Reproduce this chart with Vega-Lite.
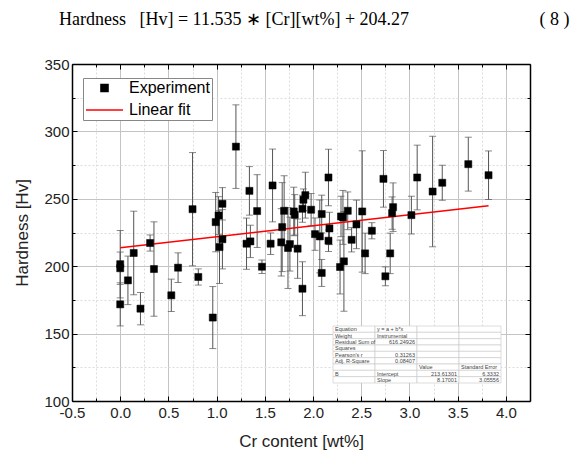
{
  "$schema": "https://vega.github.io/schema/vega-lite/v6.json",
  "width": 458,
  "height": 337,
  "autosize": {"type": "none"},
  "padding": {"left": 72, "top": 64, "right": 42, "bottom": 52},
  "background": "white",
  "title": {
    "text": "Hardness\u00a0\u00a0\u00a0[Hv] = 11.535 ∗ [Cr][wt%] + 204.27\u00a0\u00a0\u00a0\u00a0\u00a0\u00a0\u00a0\u00a0\u00a0\u00a0\u00a0\u00a0\u00a0\u00a0\u00a0\u00a0\u00a0\u00a0\u00a0\u00a0\u00a0\u00a0\u00a0\u00a0\u00a0\u00a0\u00a0\u00a0\u00a0(\u00a08\u00a0)",
    "font": "Liberation Serif",
    "fontSize": 18,
    "fontWeight": "normal",
    "color": "black",
    "anchor": "start",
    "frame": "group",
    "baseline": "alphabetic",
    "offset": 14,
    "dx": -13
  },
  "config": {
    "view": {"stroke": null},
    "axis": {
      "domainColor": "black",
      "domainWidth": 1.5,
      "tickColor": "black",
      "tickWidth": 1,
      "labelFont": "Liberation Sans",
      "labelFontSize": 15,
      "labelColor": "#222",
      "titleFont": "Liberation Sans",
      "titleFontSize": 17,
      "titleFontWeight": "normal",
      "titleColor": "#222",
      "labelFlush": false,
      "labelOverlap": false
    }
  },
  "datasets": {
    "points": [
      {"Cr": 0.0, "Hv": 201.5, "err": 25},
      {"Cr": 0.0, "Hv": 198.5, "err": 12},
      {"Cr": 0.0, "Hv": 171.7, "err": 16},
      {"Cr": 0.08, "Hv": 189.5, "err": 18},
      {"Cr": 0.14, "Hv": 209.8, "err": 31},
      {"Cr": 0.21, "Hv": 168.5, "err": 12},
      {"Cr": 0.31, "Hv": 217.2, "err": 6},
      {"Cr": 0.35, "Hv": 197.9, "err": 35},
      {"Cr": 0.53, "Hv": 178.4, "err": 12},
      {"Cr": 0.6, "Hv": 198.9, "err": 11},
      {"Cr": 0.75, "Hv": 242.3, "err": 42},
      {"Cr": 0.81, "Hv": 192.0, "err": 6},
      {"Cr": 0.96, "Hv": 161.9, "err": 23},
      {"Cr": 0.99, "Hv": 232.7, "err": 22},
      {"Cr": 1.02, "Hv": 237.6, "err": 14},
      {"Cr": 1.03, "Hv": 214.2, "err": 27},
      {"Cr": 1.06, "Hv": 246.3, "err": 12},
      {"Cr": 1.06, "Hv": 220.0, "err": 22},
      {"Cr": 1.2, "Hv": 288.7, "err": 31},
      {"Cr": 1.31, "Hv": 216.7, "err": 19},
      {"Cr": 1.34, "Hv": 255.9, "err": 18},
      {"Cr": 1.35, "Hv": 218.4, "err": 12},
      {"Cr": 1.42, "Hv": 240.9, "err": 27},
      {"Cr": 1.47, "Hv": 199.6, "err": 5},
      {"Cr": 1.56, "Hv": 216.7, "err": 8},
      {"Cr": 1.58, "Hv": 259.9, "err": 27},
      {"Cr": 1.67, "Hv": 217.7, "err": 25},
      {"Cr": 1.68, "Hv": 229.0, "err": 33},
      {"Cr": 1.7, "Hv": 241.1, "err": 26},
      {"Cr": 1.74, "Hv": 213.5, "err": 30},
      {"Cr": 1.76, "Hv": 216.4, "err": 20},
      {"Cr": 1.8, "Hv": 240.6, "err": 18},
      {"Cr": 1.81, "Hv": 238.1, "err": 15},
      {"Cr": 1.84, "Hv": 213.0, "err": 22},
      {"Cr": 1.89, "Hv": 183.3, "err": 20},
      {"Cr": 1.89, "Hv": 242.6, "err": 10},
      {"Cr": 1.9, "Hv": 249.3, "err": 8},
      {"Cr": 1.92, "Hv": 252.7, "err": 17},
      {"Cr": 1.98, "Hv": 241.9, "err": 12},
      {"Cr": 2.02, "Hv": 223.8, "err": 12},
      {"Cr": 2.07, "Hv": 222.1, "err": 27},
      {"Cr": 2.09, "Hv": 238.7, "err": 14},
      {"Cr": 2.09, "Hv": 195.0, "err": 10},
      {"Cr": 2.16, "Hv": 265.8, "err": 21},
      {"Cr": 2.16, "Hv": 218.9, "err": 8},
      {"Cr": 2.17, "Hv": 228.0, "err": 12},
      {"Cr": 2.28, "Hv": 199.4, "err": 20},
      {"Cr": 2.29, "Hv": 236.9, "err": 15},
      {"Cr": 2.31, "Hv": 236.2, "err": 20},
      {"Cr": 2.32, "Hv": 203.6, "err": 37},
      {"Cr": 2.36, "Hv": 241.1, "err": 14},
      {"Cr": 2.4, "Hv": 219.6, "err": 9},
      {"Cr": 2.45, "Hv": 231.0, "err": 18},
      {"Cr": 2.51, "Hv": 240.6, "err": 45},
      {"Cr": 2.54, "Hv": 209.5, "err": 15},
      {"Cr": 2.61, "Hv": 226.3, "err": 6},
      {"Cr": 2.73, "Hv": 264.8, "err": 21},
      {"Cr": 2.75, "Hv": 192.5, "err": 7},
      {"Cr": 2.8, "Hv": 209.5, "err": 15},
      {"Cr": 2.82, "Hv": 239.4, "err": 12},
      {"Cr": 2.83, "Hv": 243.8, "err": 18},
      {"Cr": 3.02, "Hv": 237.9, "err": 14},
      {"Cr": 3.08, "Hv": 265.8, "err": 24},
      {"Cr": 3.24, "Hv": 255.4, "err": 41},
      {"Cr": 3.34, "Hv": 261.9, "err": 13},
      {"Cr": 3.61, "Hv": 275.7, "err": 20},
      {"Cr": 3.82, "Hv": 267.5, "err": 18}
    ],
    "fit": [
      {"Cr": 0.0, "Hv": 213.61},
      {"Cr": 3.82, "Hv": 244.82}
    ],
    "table": [
      {"line": 0, "col": 1, "text": "Equation", "kind": "label"},
      {"line": 0, "col": 2, "text": "y = a + b*x", "kind": "label"},
      {"line": 0, "col": 3, "text": "", "kind": ""},
      {"line": 0, "col": 4, "text": "", "kind": ""},
      {"line": 1, "col": 1, "text": "Weight", "kind": "label"},
      {"line": 1, "col": 2, "text": "Instrumental", "kind": "label"},
      {"line": 1, "col": 3, "text": "", "kind": ""},
      {"line": 1, "col": 4, "text": "", "kind": ""},
      {"line": 2, "col": 1, "text": "Residual Sum of", "kind": "label"},
      {"line": 2, "col": 2, "text": "616.24926", "kind": "num"},
      {"line": 2, "col": 3, "text": "", "kind": ""},
      {"line": 2, "col": 4, "text": "", "kind": ""},
      {"line": 3, "col": 1, "text": "Squares", "kind": "label"},
      {"line": 3, "col": 2, "text": "", "kind": ""},
      {"line": 3, "col": 3, "text": "", "kind": ""},
      {"line": 3, "col": 4, "text": "", "kind": ""},
      {"line": 4, "col": 1, "text": "Pearson's r", "kind": "label"},
      {"line": 4, "col": 2, "text": "0.31263", "kind": "num"},
      {"line": 4, "col": 3, "text": "", "kind": ""},
      {"line": 4, "col": 4, "text": "", "kind": ""},
      {"line": 5, "col": 1, "text": "Adj. R-Square", "kind": "label"},
      {"line": 5, "col": 2, "text": "0.08407", "kind": "num"},
      {"line": 5, "col": 3, "text": "", "kind": ""},
      {"line": 5, "col": 4, "text": "", "kind": ""},
      {"line": 6, "col": 1, "text": "", "kind": ""},
      {"line": 6, "col": 2, "text": "", "kind": ""},
      {"line": 6, "col": 3, "text": "Value", "kind": "label"},
      {"line": 6, "col": 4, "text": "Standard Error", "kind": "label"},
      {"line": 7, "col": 1, "text": "B", "kind": "label"},
      {"line": 7, "col": 2, "text": "Intercept", "kind": "label"},
      {"line": 7, "col": 3, "text": "213.61301", "kind": "num"},
      {"line": 7, "col": 4, "text": "6.3332", "kind": "num"},
      {"line": 8, "col": 1, "text": "", "kind": ""},
      {"line": 8, "col": 2, "text": "Slope", "kind": "label"},
      {"line": 8, "col": 3, "text": "8.17001", "kind": "num"},
      {"line": 8, "col": 4, "text": "3.05556", "kind": "num"}
    ]
  },
  "resolve": {"scale": {"x": "independent", "y": "independent"}},
  "layer": [
    {
      "resolve": {"axis": {"x": "independent", "y": "independent"}},
      "layer": [
        {
          "data": {"name": "points"},
          "mark": {"type": "errorbar", "color": "#555", "thickness": 1, "ticks": {"size": 7, "color": "#555", "thickness": 1}},
          "encoding": {
            "x": {"field": "Cr", "type": "quantitative", "scale": {"domain": [-0.5, 4.25], "nice": false, "zero": false}, "axis": null},
            "y": {"field": "Hv", "type": "quantitative", "scale": {"domain": [100, 350], "nice": false, "zero": false}, "axis": null},
            "yError": {"field": "err"}
          }
        },
        {
          "data": {"name": "fit"},
          "mark": {"type": "line", "strokeWidth": 1.5},
          "encoding": {
            "x": {
              "field": "Cr", "type": "quantitative",
              "scale": {"domain": [-0.5, 4.25], "nice": false, "zero": false},
              "axis": {
                "orient": "top", "title": null, "labels": false, "grid": false,
                "values": [-0.5, -0.25, 0, 0.25, 0.5, 0.75, 1, 1.25, 1.5, 1.75, 2, 2.25, 2.5, 2.75, 3, 3.25, 3.5, 3.75, 4],
                "tickSize": {"condition": {"test": "abs(datum.value*2-round(datum.value*2)) < 0.001", "value": -5}, "value": -3}
              }
            },
            "y": {
              "field": "Hv", "type": "quantitative",
              "scale": {"domain": [100, 350], "nice": false, "zero": false},
              "axis": {
                "orient": "right", "title": null, "labels": false, "grid": false,
                "values": [100, 125, 150, 175, 200, 225, 250, 275, 300, 325, 350],
                "tickSize": {"condition": {"test": "datum.value % 50 === 0", "value": -5}, "value": -3}
              }
            },
            "color": {"datum": "Linear fit", "type": "nominal"}
          }
        },
        {
          "data": {"name": "points"},
          "mark": {"type": "point", "filled": true, "strokeWidth": 0.5, "opacity": 1},
          "encoding": {
            "x": {
              "field": "Cr", "type": "quantitative",
              "scale": {"domain": [-0.5, 4.25], "nice": false, "zero": false},
              "axis": {
                "orient": "bottom",
                "title": "Cr content [wt%]",
                "values": [-0.5, -0.25, 0, 0.25, 0.5, 0.75, 1, 1.25, 1.5, 1.75, 2, 2.25, 2.5, 2.75, 3, 3.25, 3.5, 3.75, 4],
                "labelExpr": "abs(datum.value*2-round(datum.value*2)) < 0.001 ? replace(format(datum.value, '.1f'), '\u2212', '-') : ''",
                "grid": true,
                "gridColor": {"condition": {"test": "abs(datum.value*2-round(datum.value*2)) < 0.001", "value": "#c4c4c4"}, "value": "#dcdcdc"},
                "gridDash": {"condition": {"test": "abs(datum.value*2-round(datum.value*2)) < 0.001", "value": []}, "value": [2, 2]},
                "gridWidth": 1,
                "tickSize": {"condition": {"test": "abs(datum.value*2-round(datum.value*2)) < 0.001", "value": -5}, "value": -3},
                "labelPadding": 9,
                "titlePadding": 11
              }
            },
            "y": {
              "field": "Hv", "type": "quantitative",
              "scale": {"domain": [100, 350], "nice": false, "zero": false},
              "axis": {
                "orient": "left",
                "title": "Hardness [Hv]",
                "values": [100, 125, 150, 175, 200, 225, 250, 275, 300, 325, 350],
                "labelExpr": "datum.value % 50 === 0 ? datum.label : ''",
                "grid": true,
                "gridColor": {"condition": {"test": "datum.value % 50 === 0", "value": "#c4c4c4"}, "value": "#dcdcdc"},
                "gridDash": {"condition": {"test": "datum.value % 50 === 0", "value": []}, "value": [2, 2]},
                "gridWidth": 1,
                "tickSize": {"condition": {"test": "datum.value % 50 === 0", "value": -5}, "value": -3},
                "labelPadding": 8,
                "titlePadding": 12
              }
            },
            "color": {
              "datum": "Experiment", "type": "nominal",
              "scale": {"domain": ["Experiment", "Linear fit"], "range": ["black", "red"]},
              "legend": {
                "title": null,
                "orient": "none",
                "legendX": 11,
                "legendY": 14,
                "padding": 2,
                "strokeColor": "#888",
                "fillColor": "white",
                "labelFont": "Liberation Sans",
                "labelFontSize": 16,
                "labelColor": "black",
                "labelOffset": 5,
                "rowPadding": 6,
                "clipHeight": 16,
                "symbolStrokeWidth": 1.5
              }
            },
            "stroke": {
              "datum": "Experiment", "type": "nominal",
              "scale": {"domain": ["Experiment", "Linear fit"], "range": ["black", "red"]}
            },
            "shape": {
              "datum": "Experiment", "type": "nominal",
              "scale": {"domain": ["Experiment", "Linear fit"], "range": ["square", "stroke"]}
            },
            "size": {
              "datum": "Experiment", "type": "nominal",
              "scale": {"domain": ["Experiment", "Linear fit"], "range": [50, 1369]}
            }
          }
        }
      ]
    },
    {
      "data": {"name": "table"},
      "encoding": {
        "x": {"field": "col", "type": "ordinal", "scale": {"type": "band", "range": [261, 429], "paddingInner": 0, "paddingOuter": 0}, "axis": null},
        "y": {"field": "line", "type": "ordinal", "scale": {"type": "band", "range": [262, 319], "paddingInner": 0, "paddingOuter": 0}, "axis": null}
      },
      "layer": [
        {"mark": {"type": "rect", "fill": "white", "stroke": "#c8c8c8", "strokeWidth": 0.6}},
        {
          "transform": [{"filter": "datum.kind === 'label'"}],
          "mark": {"type": "text", "align": "left", "baseline": "middle", "dx": 2, "fontSize": 5.5, "font": "Liberation Sans", "color": "#444"},
          "encoding": {"x": {"field": "col", "type": "ordinal", "bandPosition": 0}, "text": {"field": "text"}}
        },
        {
          "transform": [{"filter": "datum.kind === 'num'"}],
          "mark": {"type": "text", "align": "right", "baseline": "middle", "dx": -2, "fontSize": 5.5, "font": "Liberation Sans", "color": "#444"},
          "encoding": {"x": {"field": "col", "type": "ordinal", "bandPosition": 1}, "text": {"field": "text"}}
        }
      ]
    }
  ]
}
